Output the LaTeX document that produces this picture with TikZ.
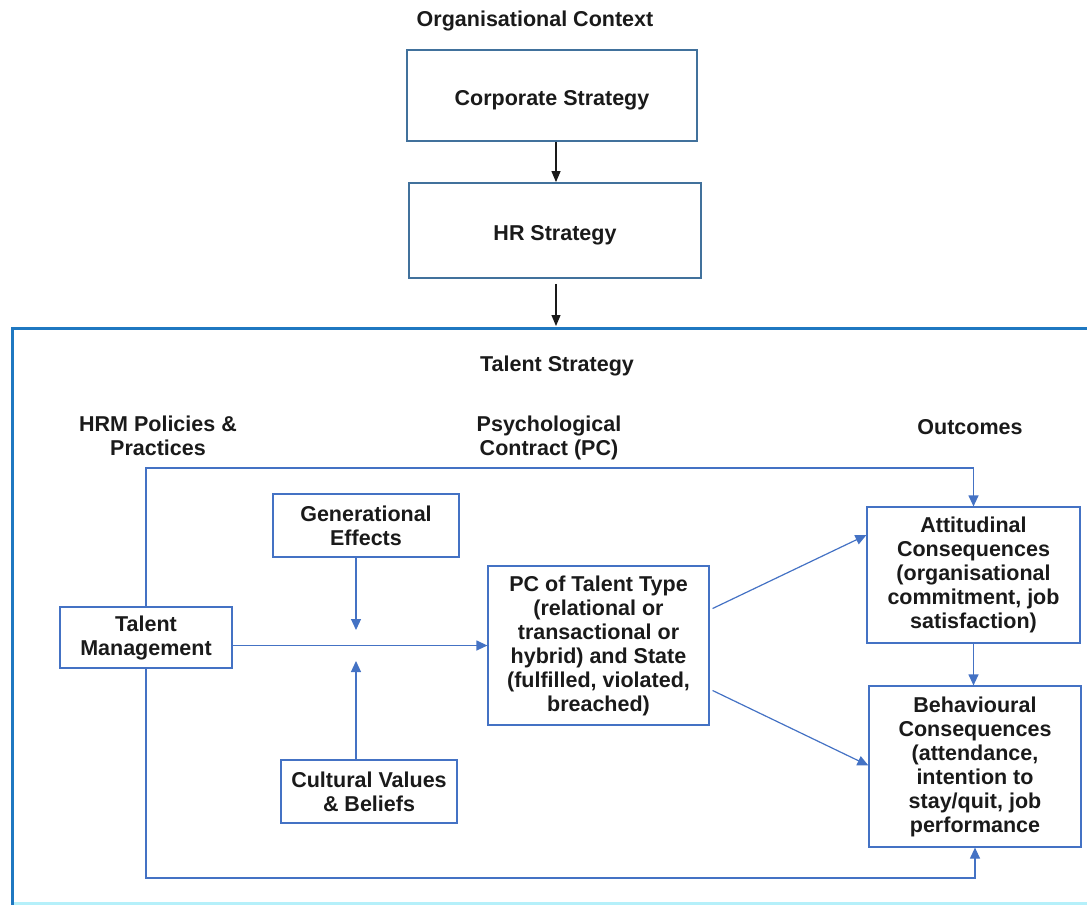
\documentclass[tikz,border=0pt]{standalone}
\usepackage{fontspec}
\setmainfont{Liberation Sans}
\usetikzlibrary{arrows.meta,calc}
\definecolor{boxblue}{HTML}{4472C4}
\definecolor{topbox}{HTML}{41719C}
\definecolor{frameblue}{HTML}{1F78C1}
\definecolor{framecyan}{HTML}{B5F0FA}
\definecolor{ink}{HTML}{1A1A1A}
\begin{document}
\begin{tikzpicture}[x=1pt,y=-1pt,
  txt/.style={font=\fontsize{21.5}{24}\selectfont\bfseries, align=center, text=ink},
  box/.style={txt, draw=boxblue, line width=1.2pt, inner sep=0pt},
  topbx/.style={txt, draw=topbox, line width=1.8pt, inner sep=0pt},
  arr/.style={-{Triangle[length=11pt,width=10pt]}, draw=boxblue, line width=1.2pt},
  blk/.style={-{Triangle[length=11pt,width=9pt]}, draw=ink, line width=1.2pt}]
\useasboundingbox (0,0) rectangle (1087,911);
% frame
\draw[framecyan, line width=3pt] (12,903) -- (1092,903);
\draw[frameblue, line width=3pt] (1092,328) -- (12,328) -- (12,904.5);
\coordinate (ftop) at (556,326);
% labels
\node[txt] (ctx) at (535,21) {Organisational Context};
\node[txt] (ts) at (557,366) {Talent Strategy};
\node[txt] (hrm) at (158,436) {HRM Policies \&\\Practices};
\node[txt] (psy) at (549,438) {Psychological\\Contract (PC)};
\node[txt] (out) at (970,427) {Outcomes};
% top boxes
\node[topbx, minimum width=290pt, minimum height=91pt] (corp) at (552,95.5) {\rule{0pt}{24pt}Corporate Strategy};
\node[topbx, minimum width=292pt, minimum height=95pt] (hr) at (555,230.5) {\rule{0pt}{24pt}HR Strategy};
% inner boxes
\node[box, minimum width=172pt, minimum height=61pt] (tm) at (146,637.5) {Talent\\Management};
\node[box, minimum width=186pt, minimum height=63pt] (gen) at (366,525.5) {Generational\\Effects};
\node[box, minimum width=176pt, minimum height=63pt] (cult) at (369,791.5) {Cultural Values\\\& Beliefs};
\node[box, minimum width=221pt, minimum height=159pt] (pc) at (598.5,645.5) {PC of Talent Type\\(relational or\\transactional or\\hybrid) and State\\(fulfilled, violated,\\breached)};
\node[box, minimum width=213pt, minimum height=136pt] (att) at (973.5,575) {Attitudinal\\Consequences\\(organisational\\commitment, job\\satisfaction)};
\node[box, minimum width=212pt, minimum height=161pt] (beh) at (975,766.5) {Behavioural\\Consequences\\(attendance,\\intention to\\stay/quit, job\\performance};
% black arrows
\draw[blk] ([xshift=4pt]corp.south) -- ([xshift=4pt]corp.south |- hr.north);
\draw[blk] ([xshift=1pt,yshift=-5pt]hr.south) -- (ftop);
% loop connectors
\coordinate (lt) at (146,468);
\coordinate (lb) at (146,878);
\draw[arr] (tm.north) -- (lt) -| (att.north);
\draw[arr] (tm.south) -- (lb) -| (beh.south);
% moderators
\coordinate (gm) at (356,630);
\coordinate (cm) at (356,661);
\draw[arr] (gen.south -| gm) -- (gm);
\draw[arr] (cult.north -| cm) -- (cm);
% main flow
\draw[arr] (tm.east |- pc.west) -- (pc.west);
\draw[arr] ([xshift=3pt,yshift=37pt]pc.east) -- ([yshift=40pt]att.west);
\draw[arr] ([xshift=3pt,yshift=-45pt]pc.east) -- ([yshift=1pt]beh.west);
\draw[arr] (att.south) -- (att.south |- beh.north);
\end{tikzpicture}
\end{document}
